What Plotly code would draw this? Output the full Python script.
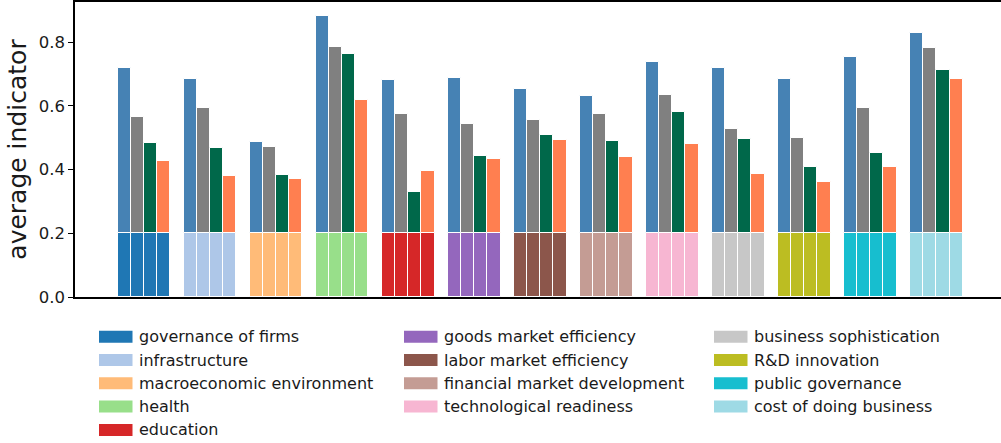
import plotly.graph_objects as go

# Pillar categories (one group of four bars each)
categories = [
    "governance of firms", "infrastructure", "macroeconomic environment",
    "health", "education", "goods market efficiency", "labor market efficiency",
    "financial market development", "technological readiness",
    "business sophistication", "R&D innovation", "public governance",
    "cost of doing business",
]
category_colors = [
    "#1f77b4", "#aec7e8", "#ffbb78", "#98df8a", "#d62728", "#9467bd",
    "#8c564b", "#c49c94", "#f7b6d2", "#c7c7c7", "#bcbd22", "#17becf", "#9edae5",
]

# Average indicator per level, one value per category
level_1 = [0.718, 0.685, 0.487, 0.882, 0.680, 0.688, 0.653, 0.632, 0.736, 0.720, 0.683, 0.753, 0.828]
level_2 = [0.564, 0.594, 0.470, 0.786, 0.573, 0.544, 0.554, 0.573, 0.634, 0.527, 0.499, 0.592, 0.780]
level_3 = [0.482, 0.468, 0.382, 0.762, 0.330, 0.442, 0.508, 0.489, 0.580, 0.495, 0.408, 0.451, 0.712]
level_4 = [0.427, 0.381, 0.370, 0.617, 0.395, 0.433, 0.493, 0.438, 0.480, 0.385, 0.360, 0.408, 0.683]
levels = [level_1, level_2, level_3, level_4]
level_colors = ["#4682b4", "#808080", "#00684a", "#ff7f50"]

base_level = 0.2
y_ticks = [0.0, 0.2, 0.4, 0.6, 0.8]

bar_w = 0.2
offsets = [(j - 1.5) * bar_w for j in range(4)]

fig = go.Figure()

# lower blocks: 0 .. base_level in the category colour
for i, (cat, col) in enumerate(zip(categories, category_colors)):
    fig.add_trace(go.Bar(
        x=[i + o for o in offsets], y=[base_level] * 4, base=0,
        width=bar_w, marker=dict(color=col, line=dict(color="white", width=1)),
        name=cat, showlegend=False, hoverinfo="skip",
    ))

# upper blocks: base_level .. value in the level colour
for j, (vals, col) in enumerate(zip(levels, level_colors)):
    fig.add_trace(go.Bar(
        x=[i + offsets[j] for i in range(len(categories))],
        y=[v - base_level for v in vals], base=base_level,
        width=bar_w, marker=dict(color=col, line=dict(color="white", width=1)),
        showlegend=False, hoverinfo="skip",
    ))

# geometry of the plotting area in pixels
W, H = 1001, 443
L, R, T, B = 75, 0, 2, 146
pw, ph = W - L - R, H - T - B


def px_x(x):
    return (x - L) / pw


def px_y(y):
    return (H - B - y) / ph


# hand-built legend: three columns of wide colour patches
col_x = [99, 404, 714]
col_rows = [5, 4, 4]
row_y0, row_dy = 336.7, 23.3
shapes, annos = [], []
k = 0
for c, nrows in enumerate(col_rows):
    for r in range(nrows):
        yc = row_y0 + r * row_dy
        shapes.append(dict(
            type="rect", xref="paper", yref="paper",
            x0=px_x(col_x[c]), x1=px_x(col_x[c] + 33.5),
            y0=px_y(yc + 6), y1=px_y(yc - 6),
            fillcolor=category_colors[k], line=dict(width=0), layer="above",
        ))
        annos.append(dict(
            xref="paper", yref="paper", x=px_x(col_x[c] + 38), y=px_y(yc),
            xanchor="left", yanchor="middle", showarrow=False,
            text=categories[k], font=dict(size=16, color="#1a1a1a"),
        ))
        k += 1

fig.update_layout(
    width=W, height=H,
    margin=dict(l=L, r=R, t=T, b=B, pad=0),
    plot_bgcolor="white", paper_bgcolor="white",
    barmode="overlay", bargap=0,
    font=dict(family="DejaVu Sans", size=16, color="#1a1a1a"),
    shapes=shapes, annotations=annos,
    showlegend=False,
)
fig.update_xaxes(
    range=[-1.045, 12.98], showticklabels=False, ticks="",
    showgrid=False, zeroline=False,
    showline=True, linecolor="black", linewidth=1.5, mirror=True,
)
fig.update_yaxes(
    range=[0, 0.9257], tickvals=y_ticks, tickformat=".1f",
    ticks="outside", ticklen=5, tickwidth=1.2, tickcolor="black",
    tickfont=dict(size=16.5),
    showgrid=False, zeroline=False,
    showline=True, linecolor="black", linewidth=1.5,
    title=dict(text="average indicator", font=dict(size=25), standoff=5),
)

fig.write_html("out.html")
